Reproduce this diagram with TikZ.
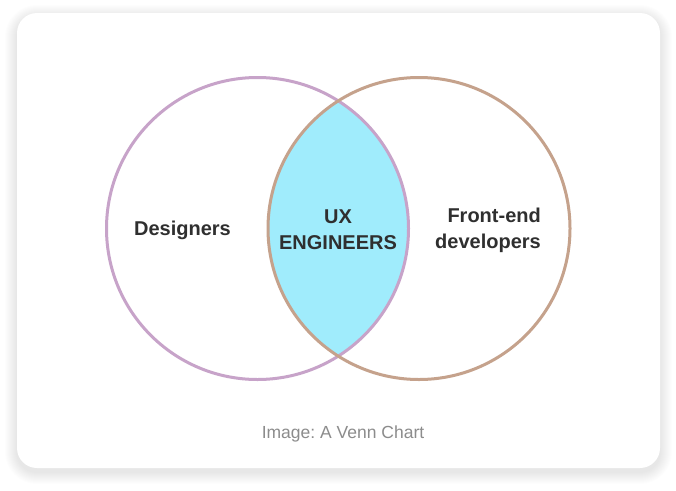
\documentclass[tikz,border=0pt]{standalone}
\usepackage{fontspec}
\setmainfont{Liberation Sans}
\usepackage{tikz}
\frenchspacing

\definecolor{lilac}{HTML}{C7A3C9}
\definecolor{tan}{HTML}{C5A28C}
\definecolor{lens}{HTML}{A0ECFC}
\definecolor{ink}{HTML}{2F2F2F}
\definecolor{capgray}{HTML}{8C8C8C}

\begin{document}
\begin{tikzpicture}[x=1pt, y=-1pt]
%define
\tikzstyle{venn} = [circle, minimum size=302pt, inner sep=0pt, line width=3pt]
\tikzstyle{label} = [text=ink, font=\fontsize{20}{26}\selectfont\bfseries, inner sep=0pt]
\tikzstyle{caption} = [text=capgray, font=\fontsize{17.5}{20}\selectfont, inner sep=0pt]

\useasboundingbox (0,0) rectangle (676,490);
\fill[white] (0,0) rectangle (676,490);

%card with soft shadow
\foreach \i in {1,...,12}
  \fill[black, opacity=0.006, rounded corners=20+\i] (17-\i,13-\i+4) rectangle (660+\i,468+\i+4);
\fill[white, rounded corners=20] (17,13) rectangle (660,468);

%circle centres
\coordinate (c_designers) at (257.5,228.5);
\coordinate (c_frontend) at (419,228.5);

%overlap
\begin{scope}
\clip (c_designers) circle (151);
\fill[lens] (c_frontend) circle (151);
\end{scope}

\node[venn, draw=lilac](designers) at (c_designers){};
\node[venn, draw=tan](frontend) at (c_frontend){};

\node[label](lbl_designers) at (182.5,230){Designers};
\node[label, align=center](lbl_ux) at (338,230){UX\\ENGINEERS};
\node[label, align=right](lbl_frontend) at (488,230){Front-end\\developers};

\node[caption](caption) at (343,434){Image: A Venn Chart};

\end{tikzpicture}
\end{document}
